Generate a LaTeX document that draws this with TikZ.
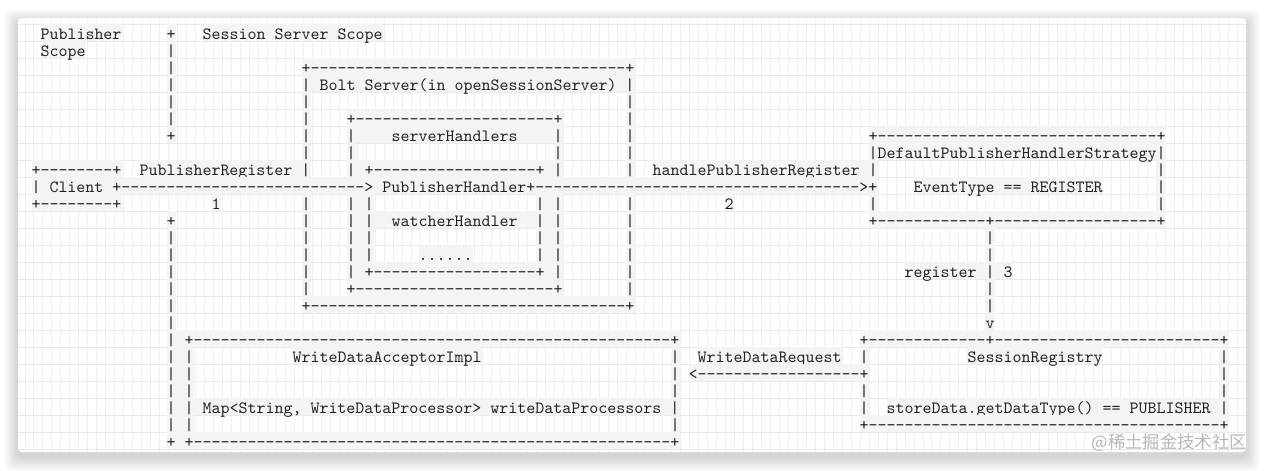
\documentclass[tikz,border=0pt]{standalone}
\usepackage{fontspec}
\newfontfamily\cjkwm{Noto Sans CJK SC}
\font\asctt="[lmmono10-regular.otf]" at 12.857pt
\ExplSyntaxOn
\cs_new:Npn \dsh #1 { \prg_replicate:nn {#1} {-} }
\ExplSyntaxOff
\definecolor{gridh}{HTML}{EAEAEA}
\definecolor{gridv}{HTML}{F0F0F0}
\definecolor{bandc}{HTML}{F4F4F4}
\definecolor{inkc}{HTML}{222222}
\tikzset{
  txt/.style={anchor=base west, inner sep=0pt, outer sep=0pt, fill=bandc,
    text=inkc, font=\asctt, text height=11.85pt, text depth=0.9pt},
  hline/.style={draw=gridh, line width=0.75pt},
  vline/.style={draw=gridv, line width=0.75pt},
}
\newcommand\T[3]{\node[txt] (n#2c#1) at ({31.5+9*#1},{39.8+17*#2}) {#3};}
\begin{document}
\begin{tikzpicture}[x=0.75pt,y=-0.75pt]
\useasboundingbox (0,0) rectangle (1264,471);
% shadow
\foreach \i in {1,...,14}{
  \fill[black,opacity=0.012,rounded corners=4pt] ({18-\i},{18-\i+5}) rectangle ({1246+\i},{452+\i+5});
}
% card
\fill[white,rounded corners=3pt] (18,18) rectangle (1246,452);
\begin{scope}
\clip[rounded corners=3pt] (18,18) rectangle (1246,452);
\foreach \k in {-1,...,136}{ \draw[vline] ({25+8.98*\k},18) -- ({25+8.98*\k},452); }
\foreach \j in {0,...,25}{ \draw[hline] (18,{24+17*\j}) -- (1246,{24+17*\j}); }
\end{scope}
% row 0
\T{1}{0}{Publisher}
\T{15}{0}{+}
\T{19}{0}{Session Server Scope}
% row 1
\T{1}{1}{Scope}
\T{15}{1}{|}
% row 2
\T{15}{2}{|}
\T{30}{2}{+\dsh{35}+}
% row 3
\T{15}{3}{|}
\T{30}{3}{| Bolt Server(in openSessionServer) |}
% row 4
\T{15}{4}{|}
\T{30}{4}{|}
\T{66}{4}{|}
% row 5
\T{15}{5}{|}
\T{30}{5}{|}
\T{35}{5}{+\dsh{22}+}
\T{66}{5}{|}
% row 6
\T{15}{6}{+}
\T{30}{6}{|}
\T{35}{6}{|~~~~serverHandlers~~~~|}
\T{66}{6}{|}
\T{93}{6}{+\dsh{31}+}
% row 7
\T{30}{7}{|}
\T{35}{7}{|}
\T{58}{7}{|}
\T{66}{7}{|}
\T{93}{7}{|DefaultPublisherHandlerStrategy|}
% row 8
\T{0}{8}{+\dsh{8}+}
\T{12}{8}{PublisherRegister |}
\T{35}{8}{| +\dsh{18}+ |}
\T{66}{8}{|}
\T{69}{8}{handlePublisherRegister |}
\T{125}{8}{|}
% row 9
\T{0}{9}{| Client +\dsh{27}> PublisherHandler+\dsh{36}>+}
\T{98}{9}{EventType == REGISTER}
\T{125}{9}{|}
% row 10
\T{0}{10}{+\dsh{8}+}
\T{20}{10}{1}
\T{30}{10}{|}
\T{35}{10}{| |}
\T{56}{10}{| |}
\T{66}{10}{|}
\T{77}{10}{2}
\T{93}{10}{|}
\T{125}{10}{|}
% row 11
\T{15}{11}{+}
\T{30}{11}{|}
\T{35}{11}{| |~~watcherHandler~~| |}
\T{66}{11}{|}
\T{93}{11}{+\dsh{12}+\dsh{18}+}
% row 12
\T{15}{12}{|}
\T{30}{12}{|}
\T{35}{12}{| |}
\T{56}{12}{| |}
\T{66}{12}{|}
\T{106}{12}{|}
% row 13
\T{15}{13}{|}
\T{30}{13}{|}
\T{35}{13}{| |}
\T{43}{13}{......}
\T{56}{13}{| |}
\T{66}{13}{|}
\T{106}{13}{|}
% row 14
\T{15}{14}{|}
\T{30}{14}{|}
\T{35}{14}{| +\dsh{18}+ |}
\T{66}{14}{|}
\T{97}{14}{register | 3}
% row 15
\T{15}{15}{|}
\T{30}{15}{|}
\T{35}{15}{+\dsh{22}+}
\T{66}{15}{|}
\T{106}{15}{|}
% row 16
\T{15}{16}{|}
\T{30}{16}{+\dsh{35}+}
\T{106}{16}{|}
% row 17
\T{15}{17}{|}
\T{106}{17}{v}
% row 18
\T{15}{18}{| +\dsh{53}+}
\T{92}{18}{+\dsh{13}+\dsh{25}+}
% row 19
\T{15}{19}{| |}
\T{29}{19}{WriteDataAcceptorImpl}
\T{71}{19}{|}
\T{74}{19}{WriteDataRequest}
\T{92}{19}{|}
\T{104}{19}{SessionRegistry}
\T{132}{19}{|}
% row 20
\T{15}{20}{| |}
\T{71}{20}{|}
\T{73}{20}{<\dsh{18}+}
\T{132}{20}{|}
% row 21
\T{15}{21}{| |}
\T{71}{21}{|}
\T{92}{21}{|}
\T{132}{21}{|}
% row 22
\T{15}{22}{| | Map<String, WriteDataProcessor> writeDataProcessors |}
\T{92}{22}{|}
\T{95}{22}{storeData.getDataType() == PUBLISHER |}
% row 23
\T{15}{23}{| |}
\T{71}{23}{|}
\T{92}{23}{+\dsh{39}+}
% row 24
\T{15}{24}{+ +\dsh{53}+}
% watermark
\node[font=\cjkwm\fontsize{13}{13}\selectfont, text=black!28, anchor=east, inner sep=0pt] (wm) at (1247,443) {@稀土掘金技术社区};
\end{tikzpicture}
\end{document}
